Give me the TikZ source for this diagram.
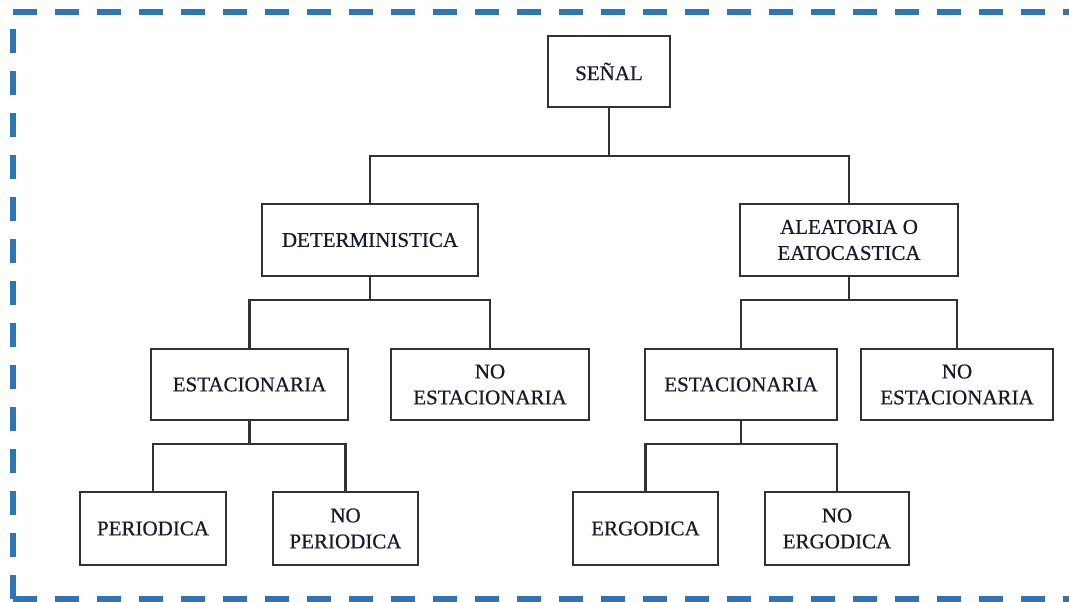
\documentclass[tikz,border=0pt]{standalone}
\usepackage{fontspec}
\setmainfont{Liberation Serif}[FakeBold=0.6]
\definecolor{framec}{RGB}{46,117,182}
\definecolor{boxc}{RGB}{50,50,50}
\definecolor{textc}{RGB}{25,25,45}
\begin{document}
\begin{tikzpicture}[x=1pt,y=-1pt,
  box/.style={draw=boxc, line width=2.2pt, fill=white, text=textc, align=center,
    inner sep=0pt, font=\fontsize{21}{26}\selectfont},
  conn/.style={draw=boxc, line width=2.4pt},
  frame/.style={draw=framec, line width=6pt, line cap=butt, dash pattern=on 24pt off 18pt}]
\useasboundingbox (0,0) rectangle (1069,602);
\begin{scope}
\clip (0,0) rectangle (1069,602);
\draw[frame] (13,11.7) -- (1100,11.7);
\draw[frame, dash phase=25pt] (13,11.7) -- (13,599);
\draw[frame] (13,599) -- (1100,599);
\end{scope}
% nodes
\node[box, minimum width=122pt, minimum height=71pt] (senal) at (609,71.5) {SEÑAL};
\node[box, minimum width=216pt, minimum height=72pt] (det) at (370,240) {DETERMINISTICA};
\node[box, minimum width=218pt, minimum height=72pt] (ale) at (849,240) {ALEATORIA O\\EATOCASTICA};
\node[box, minimum width=197pt, minimum height=71pt] (estl) at (249.5,384.5) {ESTACIONARIA};
\node[box, minimum width=198pt, minimum height=71pt] (noestl) at (490,384.5) {NO\\ESTACIONARIA};
\node[box, minimum width=192pt, minimum height=71pt] (estr) at (741,384.5) {ESTACIONARIA};
\node[box, minimum width=192pt, minimum height=71pt] (noestr) at (957,384.5) {NO\\ESTACIONARIA};
\node[box, minimum width=146pt, minimum height=73pt] (per) at (153,528.5) {PERIODICA};
\node[box, minimum width=145pt, minimum height=73pt] (noper) at (345.5,528.5) {NO\\PERIODICA};
\node[box, minimum width=145pt, minimum height=73pt] (erg) at (645.5,528.5) {ERGODICA};
\node[box, minimum width=144pt, minimum height=73pt] (noerg) at (837,528.5) {NO\\ERGODICA};
% bus levels
\coordinate (b1) at (0,156);
\coordinate (b2) at (0,300);
\coordinate (b3) at (0,444);
% connectors
\draw[conn] (senal.south) -- (senal.south |- b1);
\draw[conn] (det.north) -- (det.north |- b1) -- (ale.north |- b1) -- (ale.north);
\draw[conn] (det.south) -- (det.south |- b2);
\draw[conn] (estl.north) -- (estl.north |- b2) -- (noestl.north |- b2) -- (noestl.north);
\draw[conn] (ale.south) -- (ale.south |- b2);
\draw[conn] (estr.north) -- (estr.north |- b2) -- (noestr.north |- b2) -- (noestr.north);
\draw[conn] (estl.south) -- (estl.south |- b3);
\draw[conn] (per.north) -- (per.north |- b3) -- (noper.north |- b3) -- (noper.north);
\draw[conn] (estr.south) -- (estr.south |- b3);
\draw[conn] (erg.north) -- (erg.north |- b3) -- (noerg.north |- b3) -- (noerg.north);
\end{tikzpicture}
\end{document}
